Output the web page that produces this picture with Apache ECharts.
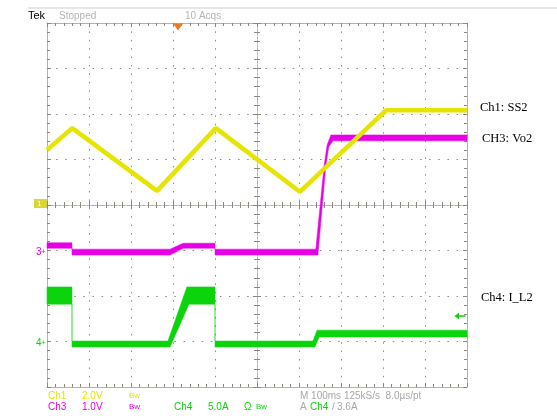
<!DOCTYPE html>
<html>
<head>
<meta charset="UTF-8">
<title>Tek</title>
<script src="https://cdn.jsdelivr.net/npm/echarts@6/dist/echarts.min.js"></script>
<style>
  html, body { margin: 0; padding: 0; background: #fff; }
  #main { width: 557px; height: 418px; }
</style>
</head>
<body>
<div id="main"></div>
<script>
// all values in screen divisions: x 0..10 (100ms/div), y -4..4
var xTicks = [0, 10, 1];
var yTicks = [-4, 4, 1];

// Ch1 SS2 (yellow), triangle then ramp
var ch1X = [0, 0.6, 2.62, 4.02, 6.02, 8.07, 10];
var ch1Y = [1.21, 1.69, 0.31, 1.69, 0.29, 2.08, 2.08];

// Ch3 Vo2 (magenta), upper / lower edge of the noisy trace
var ch3Top = [[0, -0.83], [0.595, -0.83], [0.595, -0.97], [2.93, -0.97], [3.24, -0.84], [4.0, -0.84], [4.0, -0.97],
              [6.40, -0.97], [6.60, 0.88], [6.67, 1.32], [6.76, 1.54], [10, 1.54]];
var ch3Bot = [[0, -0.95], [0.595, -0.95], [0.595, -1.10], [2.93, -1.10], [3.24, -0.95], [4.0, -0.95], [4.0, -1.10],
              [6.45, -1.10], [6.64, 0.88], [6.71, 1.28], [6.81, 1.41], [10, 1.41]];

// Ch4 I_L2 (green)
var ch4Top = [[0, -1.80], [0.595, -1.80], [0.595, -2.99], [2.88, -2.99], [3.33, -1.80], [4.0, -1.80], [4.0, -2.99],
              [6.33, -2.99], [6.43, -2.75], [10, -2.75]];
var ch4Bot = [[0, -2.18], [0.595, -2.18], [0.595, -3.12], [2.93, -3.12], [3.38, -2.18], [4.0, -2.18], [4.0, -3.12],
              [6.38, -3.12], [6.48, -2.90], [10, -2.90]];

var trigX = 3.12;
var trigLevel = -2.44;

var frameColor = '#b8b2a0';
var tickColor = '#8e8878';
var dotColor = '#8a8a8a';
var yellow = '#e6e400';
var magenta = '#e600e6';
var green = '#0cd40c';
var grayText = '#a8a8a8';

var chart = echarts.init(document.getElementById('main'));

function xAx(pos, offset, inside, split, lineType) {
  return {
    type: 'value', min: xTicks[0], max: xTicks[1], interval: xTicks[2],
    position: pos, offset: offset,
    axisLine: { show: true, onZero: false, lineStyle: { color: frameColor, width: 1, type: lineType || 'solid' } },
    axisTick: { show: true, inside: inside, length: 4, lineStyle: { color: tickColor } },
    minorTick: { show: true, splitNumber: 5, length: 3, lineStyle: { color: tickColor } },
    axisLabel: { show: false },
    splitLine: { show: split, lineStyle: { color: dotColor, type: [1.5, 6.9], width: 1 } }
  };
}
function yAx(pos, offset, inside, split, lineType) {
  return {
    type: 'value', min: yTicks[0], max: yTicks[1], interval: yTicks[2],
    position: pos, offset: offset,
    axisLine: { show: true, onZero: false, lineStyle: { color: frameColor, width: 1, type: lineType || 'solid' } },
    axisTick: { show: true, inside: inside, length: 4, lineStyle: { color: tickColor } },
    minorTick: { show: true, splitNumber: 5, length: 3, lineStyle: { color: tickColor } },
    axisLabel: { show: false },
    splitLine: { show: split, lineStyle: { color: dotColor, type: [1.5, 7.6], width: 1 } }
  };
}

// band drawn as one polygon: upper edge then lower edge backwards
function band(top, bot, color, z) {
  return {
    type: 'custom', z: z, silent: true, data: [[0, 0]],
    xAxisIndex: 0, yAxisIndex: 0,
    renderItem: function(params, api) {
      var pts = [];
      top.forEach(function(p) { pts.push(api.coord(p)); });
      bot.slice().reverse().forEach(function(p) { pts.push(api.coord(p)); });
      return { type: 'polygon', shape: { points: pts }, style: { fill: color, stroke: color, lineWidth: 0.5 } };
    }
  };
}

function txt(s, x, y, color, font, align) {
  return { type: 'text', x: x, y: y, silent: true, z: 100,
    style: { text: s, fill: color, font: font || '10px "Liberation Sans", Arial, sans-serif',
      textAlign: align || 'left', textVerticalAlign: 'middle', align: align || 'left', verticalAlign: 'middle' } };
}

var small = '10px "Liberation Sans", Arial, sans-serif';
var tiny = '8px "Liberation Sans", Arial, sans-serif';
var serif = '12.5px "Liberation Serif", "Times New Roman", serif';

option = {
  animation: false,
  backgroundColor: '#fff',
  grid: { left: 47, top: 23, width: 420, height: 364, containLabel: false },
  xAxis: [
    xAx('bottom', 0, true, true),
    xAx('top', 0, true, false),
    xAx('bottom', -182, true, false, [2, 2]),
    xAx('top', -182, true, false, [2, 2])
  ],
  yAxis: [
    yAx('left', 0, true, true),
    yAx('right', 0, true, false),
    yAx('left', -210, true, false, [2, 2]),
    yAx('right', -210, true, false, [2, 2])
  ],
  series: [
    band(ch4Top, ch4Bot, green, 3),
    band(ch3Top, ch3Bot, magenta, 4),
    {
      type: 'line', z: 5, xAxisIndex: 0, yAxisIndex: 0,
      data: ch1X.map(function(x, i) { return [x, ch1Y[i]]; }),
      symbol: 'none', lineStyle: { color: yellow, width: 4.5 },
      markPoint: {
        silent: true,
        label: { show: false },
        data: [
          { coord: [trigX, yTicks[1]], symbol: 'triangle', symbolRotate: 180, symbolSize: [10, 7],
            symbolOffset: [0, 4], itemStyle: { color: '#f07a1e' } },
          { coord: [xTicks[1], trigLevel], symbol: 'path://M0,5 L5,0 L5,4 L12,4 L12,6 L5,6 L5,10 Z',
            symbolSize: [11, 7], symbolOffset: [-7, 0], itemStyle: { color: green } }
        ]
      }
    }
  ],
  graphic: [
    { type: 'line', silent: true, shape: { x1: 28, y1: 8, x2: 557, y2: 8 }, style: { stroke: '#cfcfcf', lineWidth: 1 } },
    txt('Tek', 28, 16, '#000', '11px "Liberation Sans", Arial, sans-serif'),
    txt('Stopped', 59, 16, '#b4b4b4', small),
    txt('10 Acqs', 185, 16, '#b4b4b4', small),

    // channel markers
    { type: 'rect', silent: true, shape: { x: 34, y: 199, width: 13, height: 9 }, style: { fill: '#d8d43a' } },
    txt('1', 37, 204, '#fff', '8px "Liberation Sans", Arial, sans-serif'),
    txt('3', 36, 252, magenta, small),
    txt('+', 41, 252, magenta, tiny),
    txt('4', 36, 343, green, small),
    txt('+', 41, 343, green, tiny),

    // right side annotations
    txt('Ch1: SS2', 480, 108, '#000', serif),
    txt('CH3: Vo2', 482, 139, '#000', serif),
    txt('Ch4: I_L2', 481, 298, '#000', serif),

    // bottom readout
    txt('Ch1', 48, 396, yellow, small),
    txt('2.0V', 82, 396, yellow, small),
    txt('Bw', 129, 396, yellow, tiny),
    txt('M 100ms 125kS/s  8.0\u00b5s/pt', 300, 396, grayText, small),
    txt('Ch3', 48, 407, magenta, small),
    txt('1.0V', 82, 407, magenta, small),
    txt('Bw', 129, 407, magenta, tiny),
    txt('Ch4', 174, 407, green, small),
    txt('5.0A', 208, 407, green, small),
    txt('\u03a9', 244, 407, green, small),
    txt('Bw', 256, 407, green, tiny),
    txt('A', 300, 407, grayText, small),
    txt('Ch4', 310, 407, green, small),
    txt('/', 332, 407, grayText, small),
    txt('3.6A', 337, 407, grayText, small)
  ]
};
chart.setOption(option);
</script>
</body>
</html>
